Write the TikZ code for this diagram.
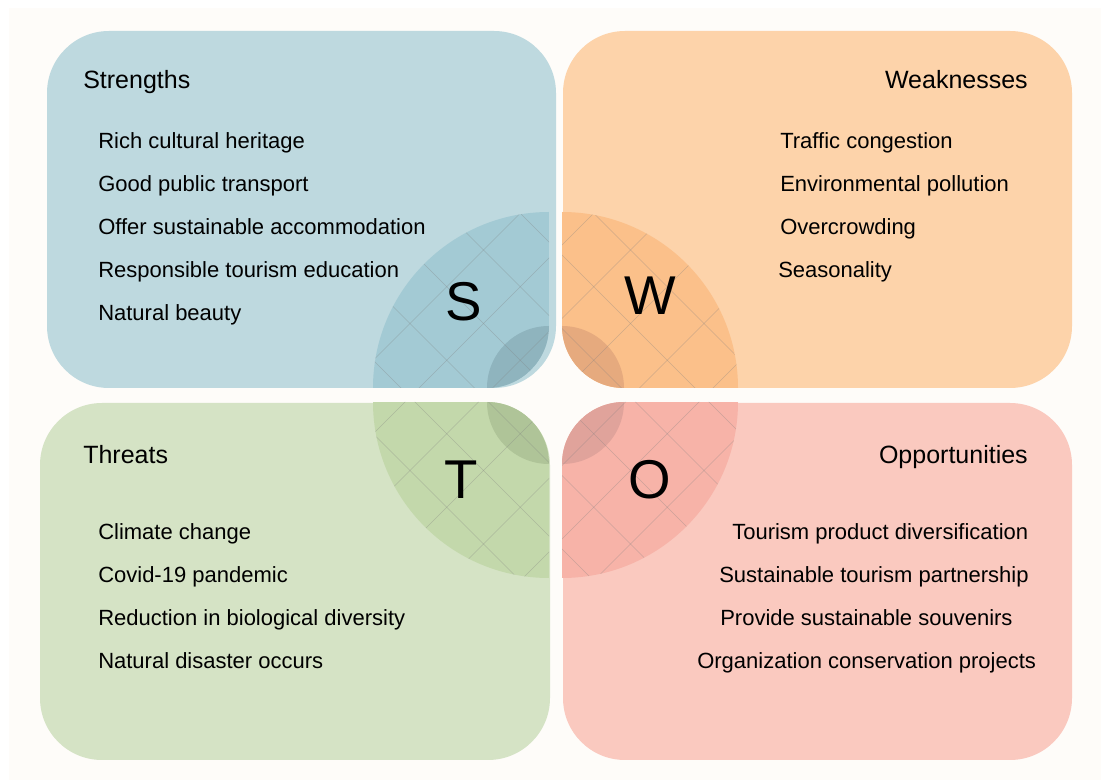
\documentclass[tikz,border=0pt]{standalone}
\usepackage{fontspec}
\setmainfont{Liberation Sans}

\definecolor{paper}{HTML}{FEFCF9}
\definecolor{boxS}{HTML}{BED9DF}
\definecolor{boxW}{HTML}{FDD3AA}
\definecolor{boxT}{HTML}{D5E3C5}
\definecolor{boxO}{HTML}{FAC9BF}
\definecolor{pieS}{HTML}{A3CAD4}
\definecolor{pieW}{HTML}{FBC08A}
\definecolor{pieT}{HTML}{C3D8AB}
\definecolor{pieO}{HTML}{F7B3A8}
\definecolor{lensS}{HTML}{8FB4BE}
\definecolor{lensW}{HTML}{E6AA7E}
\definecolor{lensT}{HTML}{AFC498}
\definecolor{lensO}{HTML}{E0A39B}

\begin{document}
\begin{tikzpicture}[x=0.75pt, y=-0.75pt,
    quad/.style={rounded corners=46.5pt},
    heading/.style={inner sep=0pt, font=\fontsize{18.75}{22}\selectfont},
    item/.style={inner sep=0pt, anchor=base west, font=\fontsize{16.5}{20}\selectfont},
    letter/.style={inner sep=0pt, anchor=base, font=\fontsize{41}{41}\selectfont},
    hatch/.style={draw=gray, line width=0.5pt, opacity=0.35}]

        \useasboundingbox (0,0) rectangle (1101,780);
        \fill[white] (0,0) rectangle (1101,780);
        \fill[paper] (9,8) rectangle (1101,780);

        \fill[boxS, quad] (47,31) rectangle (556,388);
        \fill[boxW, quad] (563,31) rectangle (1072,388);
        \fill[boxT, quad] (40,403) rectangle (550,760);
        \fill[boxO, quad] (563,403) rectangle (1072,760);

        \foreach \cx/\cy/\ax/\ay/\pc/\lc in {549/388/300/150/pieS/lensS,
                                            562/388/800/150/pieW/lensW,
                                            549/402/300/650/pieT/lensT,
                                            562/402/800/650/pieO/lensO} {
            \begin{scope}
                \clip (\cx,\cy) circle[radius=176];
                \clip[quad] (\ax,\ay) rectangle (\cx,\cy);
                \fill[\pc] (\ax,\ay) rectangle (\cx,\cy);
                \fill[\lc] (\cx,\cy) circle[radius=62];
                \foreach \k in {-6,...,9} {
                    \draw[hatch] ({310+73.5*\k},150) -- ({810+73.5*\k},650);
                    \draw[hatch] ({583.5+73.5*\k},150) -- ({83.5+73.5*\k},650);
                }
            \end{scope}
        }

        \node (sletter) [letter] at (464,321) {S};
        \node (wletter) [letter] at (650,315) {W};
        \node (tletter) [letter] at (461.5,499) {T};
        \node (oletter) [letter] at (650,499) {O};

        \node (strengths) [heading, anchor=base west] at (83,89) {Strengths};
        \node (weaknesses) [heading, anchor=base east] at (1028,89) {Weaknesses};
        \node (threats) [heading, anchor=base west] at (83,464) {Threats};
        \node (opportunities) [heading, anchor=base east] at (1028,464) {Opportunities};

        \node (s1) [item] at (98,149) {Rich cultural heritage};
        \node (s2) [item] at (98,192) {Good public transport};
        \node (s3) [item] at (98,235) {Offer sustainable accommodation};
        \node (s4) [item] at (98,278) {Responsible tourism education};
        \node (s5) [item] at (98,321) {Natural beauty};

        \node (w1) [item] at (780,149) {Traffic congestion};
        \node (w2) [item] at (780,192) {Environmental pollution};
        \node (w3) [item] at (780,235) {Overcrowding};
        \node (w4) [item] at (778,278) {Seasonality};

        \node (t1) [item] at (98,540) {Climate change};
        \node (t2) [item] at (98,583) {Covid-19 pandemic};
        \node (t3) [item] at (98,626) {Reduction in biological diversity};
        \node (t4) [item] at (98,669) {Natural disaster occurs};

        \node (o1) [item] at (732,540) {Tourism product diversification};
        \node (o2) [item] at (719,583) {Sustainable tourism partnership};
        \node (o3) [item] at (720,626) {Provide sustainable souvenirs};
        \node (o4) [item] at (697,669) {Organization conservation projects};

    \end{tikzpicture}
\end{document}
